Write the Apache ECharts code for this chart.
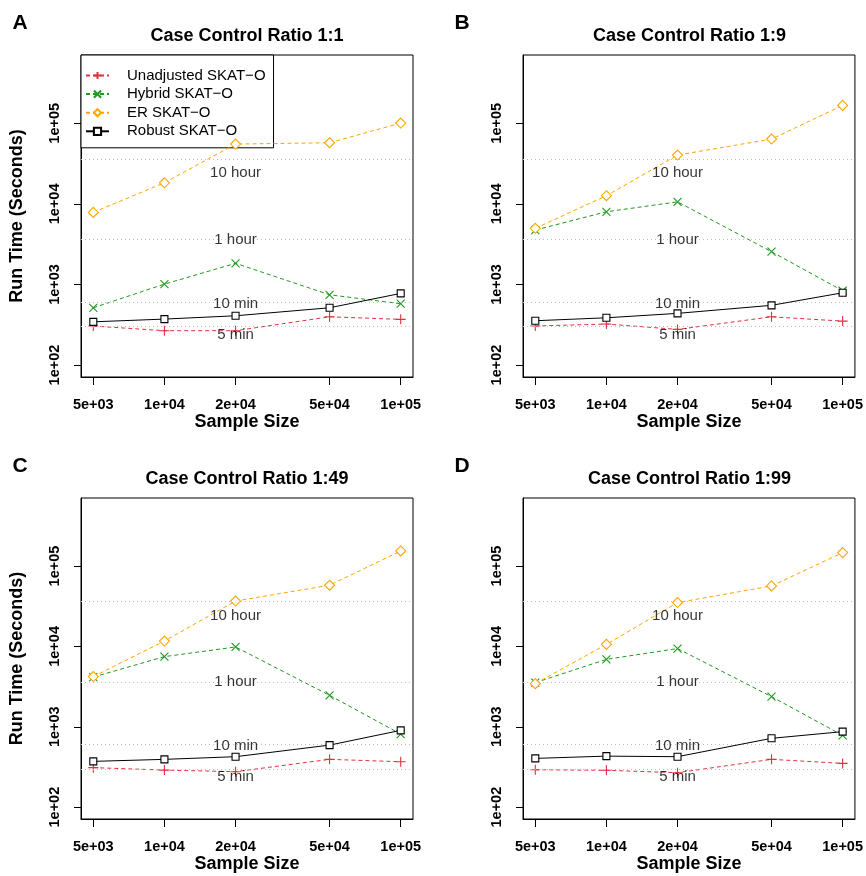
<!DOCTYPE html>
<html>
<head>
<meta charset="utf-8">
<script src="https://cdn.jsdelivr.net/npm/echarts@6/dist/echarts.min.js"></script>
<style>
  html, body { margin: 0; padding: 0; background: #fff; }
  #main { width: 866px; height: 876px; }
</style>
</head>
<body>
<div id="main"></div>
<script>
// sample sizes on the x axis
const sizes = [5000, 10000, 20000, 50000, 100000];
const panelTitles = ['Case Control Ratio 1:1', 'Case Control Ratio 1:9', 'Case Control Ratio 1:49', 'Case Control Ratio 1:99'];
const panelLetters = ['A', 'B', 'C', 'D'];
const yTicks = [100, 1000, 10000, 100000];

// run time (seconds), one row per panel A..D
const unadjusted = [
  [305, 267, 267, 397, 369],
  [305, 323, 277, 397, 351],
  [310, 289, 276, 393, 367],
  [292, 287, 268, 393, 350]
];
const hybrid = [
  [514, 1010, 1830, 745, 577],
  [4730, 7980, 10600, 2550, 836],
  [4150, 7460, 9840, 2460, 811],
  [3540, 6900, 9400, 2370, 781]
];
const er = [
  [7840, 18270, 55200, 57300, 100500],
  [4970, 12620, 40300, 63700, 166700],
  [4210, 11670, 36700, 57700, 154000],
  [3440, 10600, 35100, 56500, 147000]
];
const robust = [
  [344, 372, 409, 514, 775],
  [355, 386, 438, 551, 789],
  [371, 393, 424, 591, 902],
  [404, 431, 424, 718, 869]
];

// reference lines (seconds) and where their text sits
const refNames = ['5 min', '10 min', '1 hour', '10 hour'];
const refValues = [300, 600, 3600, 36000];
const refLabelAt = [235, 582, 3600, 24300];
const refLabelX = 20000;

const FONT = '"Liberation Sans", Arial, Helvetica, sans-serif';
const MINUS = '\u2212';

const methods = [
  { name: 'Unadjusted SKAT' + MINUS + 'O', data: unadjusted, color: '#E0323F', dash: [4, 3],
    symbol: 'path://M0,5H10M5,0V10', size: 10 },
  { name: 'Hybrid SKAT' + MINUS + 'O', data: hybrid, color: '#1E9A1E', dash: [4, 3],
    symbol: 'path://M0,0L10,10M0,10L10,0', size: 8 },
  { name: 'ER SKAT' + MINUS + 'O', data: er, color: '#FFA500', dash: [4, 3],
    symbol: 'diamond', size: 10 },
  { name: 'Robust SKAT' + MINUS + 'O', data: robust, color: '#000000', dash: 'solid',
    symbol: 'rect', size: 7 }
];

// panel boxes
const boxes = [
  { left: 81, top: 55, width: 332, height: 322 },
  { left: 523, top: 55, width: 333, height: 322 },
  { left: 81, top: 498, width: 332, height: 321 },
  { left: 523, top: 498, width: 333, height: 321 }
];

// R style 4% padding on log scale
const xMin = Math.pow(10, Math.log10(5000) - 0.04 * Math.log10(100000 / 5000));
const xMax = Math.pow(10, 5 + 0.04 * Math.log10(100000 / 5000));
const yLogPad = 0.04 * (Math.log10(5e5) - 2);
const yMin = Math.pow(10, 2 - yLogPad);
const yMax = Math.pow(10, Math.log10(5e5) + yLogPad);

function sci(v) {
  const s = Number(v).toExponential(0);
  return s.replace(/e([+-])(\d)$/, 'e$10$2');
}

const grids = [], xAxes = [], yAxes = [], series = [], titles = [];

boxes.forEach((b, p) => {
  grids.push(Object.assign({ show: true, borderColor: '#000', borderWidth: 1, backgroundColor: 'transparent' }, b));

  xAxes.push({
    type: 'log', logBase: 10, gridIndex: p, min: xMin, max: xMax,
    name: 'Sample Size', nameLocation: 'middle', nameGap: 36,
    nameTextStyle: { fontFamily: FONT, fontWeight: 'bold', fontSize: 18, color: '#000' },
    axisLine: { show: true, onZero: false, lineStyle: { color: '#000', width: 1 } },
    axisTick: { show: true, length: 8, inside: false, customValues: sizes, lineStyle: { color: '#000' } },
    axisLabel: { customValues: sizes, margin: 20, fontFamily: FONT, fontWeight: 'bold', fontSize: 14.5, color: '#000',
      formatter: sci },
    splitLine: { show: false }, minorTick: { show: false }
  });

  yAxes.push({
    type: 'log', logBase: 10, gridIndex: p, min: yMin, max: yMax,
    name: (p % 2 === 0) ? 'Run Time (Seconds)' : '', nameLocation: 'middle', nameGap: 55,
    nameTextStyle: { fontFamily: FONT, fontWeight: 'bold', fontSize: 18, color: '#000' },
    axisLine: { show: true, onZero: false, lineStyle: { color: '#000', width: 1 } },
    axisTick: { show: true, length: 7, customValues: yTicks, lineStyle: { color: '#000' } },
    axisLabel: { customValues: yTicks, rotate: 90, margin: 19, fontFamily: FONT, fontWeight: 'bold', fontSize: 14.5,
      color: '#000', formatter: sci },
    splitLine: { show: false }, minorTick: { show: false }
  });

  const cx = b.left + b.width / 2;
  titles.push({
    text: panelTitles[p], left: cx, top: b.top - 28, textAlign: 'center', padding: 0,
    textStyle: { fontFamily: FONT, fontWeight: 'bold', fontSize: 18, color: '#000' }
  });
  titles.push({
    text: panelLetters[p], left: b.left - 61, top: b.top - 42, textAlign: 'center', padding: 0,
    textStyle: { fontFamily: FONT, fontWeight: 'bold', fontSize: 21, color: '#000' }
  });

  methods.forEach((m, k) => {
    const s = {
      type: 'line', name: m.name, xAxisIndex: p, yAxisIndex: p,
      data: sizes.map((x, i) => [x, m.data[p][i]]),
      symbol: m.symbol, symbolSize: m.size, showSymbol: true,
      lineStyle: { color: m.color, width: 1, type: m.dash },
      itemStyle: { color: '#fff', borderColor: m.color, borderWidth: 1.1 },
      emphasis: { disabled: true }, z: 3 + k
    };
    if (k === 0) {
      s.markLine = {
        silent: true, symbol: ['none', 'none'], label: { show: false },
        lineStyle: { type: [1, 3], color: '#bdbdbd', width: 1 },
        data: refValues.map(v => ({ yAxis: v }))
      };
    }
    series.push(s);
  });

  series.push({
    type: 'scatter', name: 'ref', xAxisIndex: p, yAxisIndex: p, silent: true, z: 10,
    symbolSize: 1, itemStyle: { color: 'rgba(0,0,0,0)' },
    label: { show: true, position: 'inside', formatter: '{b}', fontFamily: FONT, fontSize: 15, color: '#000' },
    data: refNames.map((n, i) => ({ name: n, value: [refLabelX, refLabelAt[i]] }))
  });
});

const chart = echarts.init(document.getElementById('main'), null, { renderer: 'canvas' });
chart.setOption({
  animation: false,
  backgroundColor: '#fff',
  title: titles,
  grid: grids,
  xAxis: xAxes,
  yAxis: yAxes,
  legend: {
    data: methods.map(m => m.name),
    orient: 'vertical', left: 81, top: 55,
    padding: [13, 8, 9, 4], itemGap: 3.6, itemWidth: 23, itemHeight: 9,
    backgroundColor: '#fff', borderColor: '#000', borderWidth: 1, borderRadius: 0,
    selectedMode: false,
    textStyle: { fontFamily: FONT, fontSize: 15, color: '#000', padding: [0, 0, 0, 13] }
  },
  series: series
});
</script>
</body>
</html>
